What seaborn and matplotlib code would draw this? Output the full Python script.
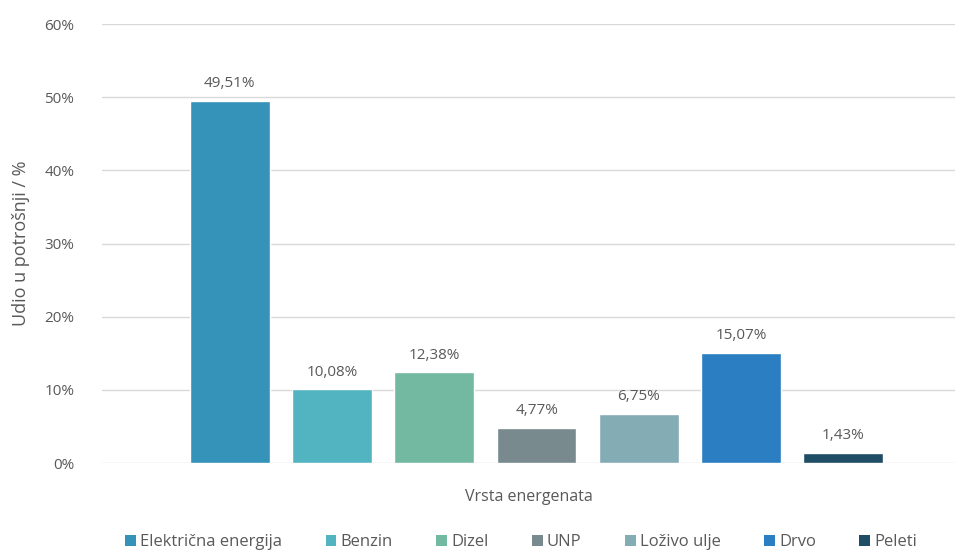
import pandas as pd
import matplotlib.pyplot as plt
import seaborn as sns
from matplotlib.ticker import FuncFormatter
from matplotlib.patches import Patch

# Data
ENERGENTI = ["Električna energija", "Benzin", "Dizel", "UNP", "Loživo ulje", "Drvo", "Peleti"]
UDIO = [49.51, 10.08, 12.38, 4.77, 6.75, 15.07, 1.43]
BOJE = ["#3592B8", "#52B4C1", "#73B9A2", "#788A8E", "#84ACB5", "#2A7EC1", "#1F4D66"]
X_NASLOV = "Vrsta energenata"
Y_NASLOV = "Udio u potrošnji / %"

TEXT = "#595959"
GRID = "#D9D9D9"

sns.set_theme(style="white")
plt.rcParams['font.family'] = ['Open Sans', 'DejaVu Sans']

df = pd.DataFrame({"grupa": [""] * len(ENERGENTI), "energent": ENERGENTI, "udio": UDIO})
palette = dict(zip(ENERGENTI, BOJE))

fig = plt.figure(figsize=(9.65, 5.51), dpi=100)
ax = fig.add_axes([0.1057, 0.1597, 0.8839, 0.7967])

sns.barplot(data=df, x="grupa", y="udio", hue="energent", hue_order=ENERGENTI,
            palette=palette, width=0.84, gap=0.22, saturation=1, legend=False, ax=ax)

for cont, v in zip(ax.containers, UDIO):
    ax.bar_label(cont, labels=[f"{v:.2f}%".replace(".", ",")], padding=7,
                 color=TEXT, fontsize=11)

ax.set_ylim(0, 60)
ax.set_xlim(-0.51, 0.491)
ax.set_yticks(range(0, 61, 10))
ax.yaxis.set_major_formatter(FuncFormatter(lambda v, p: f"{v:.0f}%"))
ax.tick_params(axis="y", colors=TEXT, labelsize=11, length=0, pad=20)
ax.set_xticks([])
ax.grid(axis="y", color=GRID, linewidth=1)
ax.set_axisbelow(True)
for s in ax.spines.values():
    s.set_visible(False)

ax.set_xlabel(X_NASLOV, color=TEXT, fontsize=11.5, labelpad=19)
ax.set_ylabel(Y_NASLOV, color=TEXT, fontsize=13, labelpad=10)

handles = [Patch(facecolor=c, edgecolor="none") for c in BOJE]
fig.legend(handles, ENERGENTI, loc="lower center", bbox_to_anchor=(0.54, -0.026), ncol=7,
           frameon=False, fontsize=12, labelcolor=TEXT, handlelength=0.65, handleheight=0.65,
           handletextpad=0.25, columnspacing=2.6)

fig.savefig("out.png", dpi=100)
